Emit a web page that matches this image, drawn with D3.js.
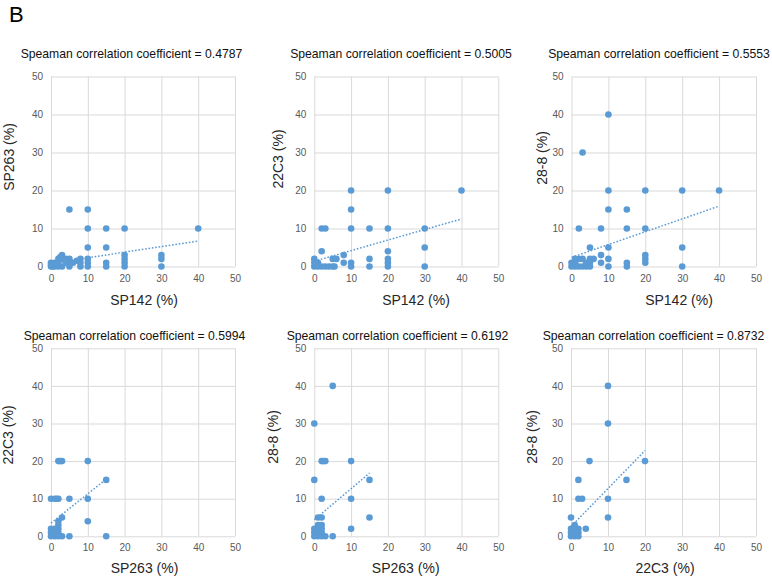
<!DOCTYPE html>
<html>
<head>
<meta charset="utf-8">
<script src="https://cdn.jsdelivr.net/npm/d3@7"></script>
<style>
  html, body { margin: 0; padding: 0; background: #ffffff; }
  svg { display: block; font-family: "Liberation Sans", Arial, sans-serif; }
</style>
</head>
<body>
<script>
// ---------------- DATA ----------------
const tickValues = [0, 10, 20, 30, 40, 50];

const titles = [
  "Speaman correlation coefficient = 0.4787",
  "Speaman correlation coefficient = 0.5005",
  "Speaman correlation coefficient = 0.5553",
  "Speaman correlation coefficient = 0.5994",
  "Speaman correlation coefficient = 0.6192",
  "Speaman correlation coefficient = 0.8732"
];
const xLabels = ["SP142 (%)", "SP142 (%)", "SP142 (%)", "SP263 (%)", "SP263 (%)", "22C3 (%)"];
const yLabels = ["SP263 (%)", "22C3 (%)", "28-8 (%)", "22C3 (%)", "28-8 (%)", "28-8 (%)"];

// Panel 1: SP142 vs SP263
const x1 = [0,0,0,0.5,1,1,1,2,2,2,2.5,3,3,3,4,4,5,5,5,5,6,7,8,8,8,10,10,10,10,10,10,15,15,15,15,20,20,20,20,20,30,30,30,40];
const y1 = [0,1,0.5,0,0,1,0.5,0,1,2,2.5,3,2,0,2,1,2,1,0,15,1,1.5,2,1,0,15,10,5,2,1,0,10,5,1,0,10,3,2,1,0,3,2,0,10];
// Panel 2: SP142 vs 22C3
const x2 = [0,0,0,0.5,1,1,2,3,4,5,5.5,2,2,3,5,6,8,8,10,10,10,10,10,15,15,15,20,20,20,20,20,20,30,30,30,40];
const y2 = [0,1,2,0.5,0,1,0,0,0,0,0,4,10,10,2,2,3,1,20,15,10,1,0,10,2,0,20,10,4,2,1,0,10,5,0,20];
// Panel 3: SP142 vs 28-8
const x3 = [0,0,0.5,1,1,1,2,2,3,3,4,4,5,5,5,6,2,3,5,8,8,8,10,10,10,10,10,10,15,15,15,15,20,20,20,20,20,30,30,30,40];
const y3 = [0,1,0.5,0,2,1,0,2,0,2,0,1,0,1,2,2,10,30,5,10,3,1,40,20,15,5,2,0,15,10,1,0,20,10,3,2,1,20,5,0,20];
// Panel 4: SP263 vs 22C3
const x4 = [0,0,0,0.5,1,1,1,1.5,2,2,2,2,2,3,3,5,0,1,1.5,2,5,10,10,2,2.5,3,10,15,15];
const y4 = [0,1,2,0.5,0,1,2,1,0,1,2,3,4,0,5,0,10,10,10,10,10,10,4,20,20,20,20,15,0];
// Panel 5: SP263 vs 28-8
const x5 = [0,0,0,0.5,1,1,1,1,1.5,2,2,2,2,3,5,1,2,0,0,5,2,2,2.5,3,10,10,10,15,15];
const y5 = [0,1,2,0.5,0,1,2,3,2,0,1,2,3,0,0,5,5,15,30,40,10,20,20,20,20,10,2,15,5];
// Panel 6: 22C3 vs 28-8
const x6 = [0,0,0,0.5,0.5,1,1,1,1,1.5,2,2,2,0,4,2,3,2,5,10,10,10,10,15,20];
const y6 = [0,1,2,0.5,1.5,0,1,2,3,1,0,1,2,5,2,10,10,15,20,40,30,10,5,15,20];

// Linear trendline end points
const trendX1 = [0, 40], trendY1 = [0.85, 6.7];
const trendX2 = [0, 40], trendY2 = [1.4, 12.5];
const trendX3 = [0, 40], trendY3 = [2.4, 15.9];
const trendX4 = [0, 15], trendY4 = [3.5, 15.2];
const trendX5 = [0, 15], trendY5 = [4.4, 16.8];
const trendX6 = [0, 20], trendY6 = [2.6, 22.8];

const seriesX = [x1, x2, x3, x4, x5, x6];
const seriesY = [y1, y2, y3, y4, y5, y6];
const trendXs = [trendX1, trendX2, trendX3, trendX4, trendX5, trendX6];
const trendYs = [trendY1, trendY2, trendY3, trendY4, trendY5, trendY6];

// ---------------- LAYOUT (pixels) ----------------
const layout = [
  {left: 51,    right: 235,   top: 76.5,  bottom: 266.5, titleX: 131.5, titleY: 57.5,  xtX: 144,   xtY: 305, ytX: 14,    ytY: 157},
  {left: 314.3, right: 498.3, top: 76.5,  bottom: 266.5, titleX: 401,   titleY: 57.5,  xtX: 416,   xtY: 305, ytX: 282.5, ytY: 159},
  {left: 571.5, right: 756,   top: 76.5,  bottom: 266.5, titleX: 659,   titleY: 57.5,  xtX: 679,   xtY: 305, ytX: 546.5, ytY: 158},
  {left: 51,    right: 235,   top: 348.3, bottom: 536.3, titleX: 134.5, titleY: 339.5, xtX: 144.5, xtY: 573, ytX: 13,    ytY: 435},
  {left: 314.3, right: 498.3, top: 348.3, bottom: 536.3, titleX: 397.5, titleY: 339.5, xtX: 405.7, xtY: 573, ytX: 278,   ytY: 437},
  {left: 571,   right: 756,   top: 348.3, bottom: 536.3, titleX: 653.5, titleY: 339.5, xtX: 665,   xtY: 573, ytX: 537,   ytY: 437}
];

const DOT = "#5B9BD5";
const GRID = "#D9D9D9";
const TICK = "#595959";

const svg = d3.select("body").append("svg")
  .attr("width", 772).attr("height", 577);

svg.append("rect").attr("width", 772).attr("height", 577).attr("fill", "#fff");

svg.append("text")
  .attr("x", 9).attr("y", 22)
  .attr("font-size", 22)
  .attr("fill", "#000")
  .text("B");

layout.forEach((L, i) => {
  const g = svg.append("g");
  const x = d3.scaleLinear().domain([0, 50]).range([L.left, L.right]);
  const y = d3.scaleLinear().domain([0, 50]).range([L.bottom, L.top]);

  // x axis + vertical gridlines
  const gx = g.append("g")
    .attr("transform", `translate(0,${L.bottom})`)
    .call(d3.axisBottom(x).tickValues(tickValues).tickSize(-(L.bottom - L.top)).tickPadding(8));
  gx.select(".domain").remove();
  gx.selectAll(".tick line").attr("stroke", GRID).attr("stroke-width", 1);
  gx.selectAll(".tick text").attr("fill", TICK).attr("font-size", 10)
    .attr("font-family", "'Liberation Sans', Arial, sans-serif");

  // y axis + horizontal gridlines
  const gy = g.append("g")
    .attr("transform", `translate(${L.left},0)`)
    .call(d3.axisLeft(y).tickValues(tickValues).tickSize(-(L.right - L.left)).tickPadding(8));
  gy.select(".domain").remove();
  gy.selectAll(".tick line").attr("stroke", GRID).attr("stroke-width", 1);
  gy.selectAll(".tick text").attr("fill", TICK).attr("font-size", 10)
    .attr("font-family", "'Liberation Sans', Arial, sans-serif");

  // points
  const pts = d3.zip(seriesX[i], seriesY[i]);
  g.append("g").selectAll("circle").data(pts).join("circle")
    .attr("cx", d => x(d[0]))
    .attr("cy", d => y(d[1]))
    .attr("r", 3.3)
    .attr("fill", DOT);

  // dotted linear trendline
  const tr = d3.zip(trendXs[i], trendYs[i]);
  g.append("path")
    .datum(tr)
    .attr("d", d3.line().x(d => x(d[0])).y(d => y(d[1])))
    .attr("fill", "none")
    .attr("stroke", DOT)
    .attr("stroke-width", 1.5)
    .attr("stroke-dasharray", "1.6,1.8");

  // title
  g.append("text")
    .attr("x", L.titleX).attr("y", L.titleY)
    .attr("text-anchor", "middle")
    .attr("font-size", 12.2)
    .attr("fill", "#111")
    .text(titles[i]);

  // x axis title
  g.append("text")
    .attr("x", L.xtX).attr("y", L.xtY)
    .attr("text-anchor", "middle")
    .attr("font-size", 14)
    .attr("fill", "#262626")
    .text(xLabels[i]);

  // y axis title
  g.append("text")
    .attr("transform", `translate(${L.ytX},${L.ytY}) rotate(-90)`)
    .attr("text-anchor", "middle")
    .attr("font-size", 14)
    .attr("fill", "#262626")
    .text(yLabels[i]);
});
</script>
</body>
</html>
